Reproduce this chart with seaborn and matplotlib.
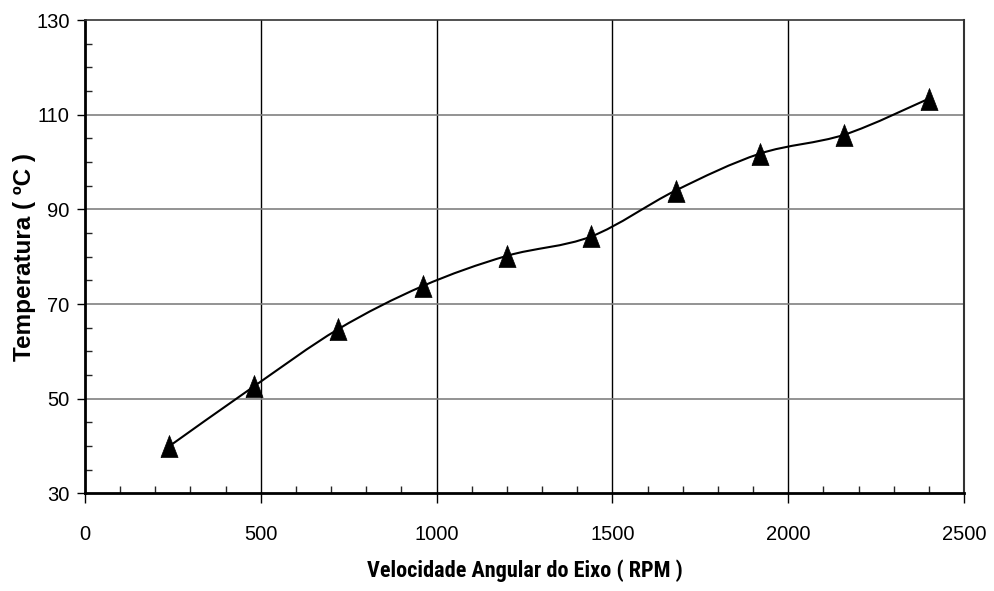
import matplotlib
matplotlib.use("Agg")
import matplotlib.pyplot as plt
from matplotlib.path import Path
from matplotlib.patches import PathPatch
from matplotlib.ticker import MultipleLocator
import seaborn as sns
import pandas as pd

# dados
rpm = [240, 480, 720, 960, 1200, 1440, 1680, 1920, 2160, 2400]
temperatura = [40, 52.6, 64.7, 73.8, 80.2, 84.3, 94.0, 101.8, 105.8, 113.4]
x_ticks = [0, 500, 1000, 1500, 2000, 2500]
y_ticks = [30, 50, 70, 90, 110, 130]

df = pd.DataFrame({"rpm": rpm, "temp": temperatura})

sns.set_style("white")
plt.rcParams["font.family"] = ["Liberation Sans", "DejaVu Sans"]
plt.rcParams["text.color"] = "black"
plt.rcParams["axes.labelcolor"] = "black"

fig = plt.figure(figsize=(9.94, 5.91), dpi=100)
ax = fig.add_axes([0.0855, 0.165, 0.8843, 0.801])

# linha suavizada (estilo Excel: curvas de Bezier entre os pontos)
verts = [(rpm[0], temperatura[0])]
codes = [Path.MOVETO]
n = len(rpm)
for i in range(n - 1):
    x0, y0 = rpm[max(i - 1, 0)], temperatura[max(i - 1, 0)]
    x1, y1 = rpm[i], temperatura[i]
    x2, y2 = rpm[i + 1], temperatura[i + 1]
    x3, y3 = rpm[min(i + 2, n - 1)], temperatura[min(i + 2, n - 1)]
    verts += [(x1 + (x2 - x0) / 6, y1 + (y2 - y0) / 6),
              (x2 - (x3 - x1) / 6, y2 - (y3 - y1) / 6),
              (x2, y2)]
    codes += [Path.CURVE4] * 3
ax.add_patch(PathPatch(Path(verts, codes), fill=False, edgecolor="black", lw=1.5, zorder=3))

tri = [(-0.39, -0.5), (0.39, -0.5), (0, 0.5), (-0.39, -0.5)]
sns.scatterplot(data=df, x="rpm", y="temp", marker=tri, s=250, color="black",
                edgecolor="black", linewidth=0.5, zorder=4, ax=ax, legend=False)

ax.set_xlim(0, 2500)
ax.set_ylim(30, 130)
ax.set_xticks(x_ticks)
ax.set_yticks(y_ticks)
ax.xaxis.set_minor_locator(MultipleLocator(100))
ax.yaxis.set_minor_locator(MultipleLocator(5))

ax.tick_params(axis="x", which="major", direction="out", length=7, width=1, pad=16,
               labelsize=14.5, colors="black", bottom=True)
ax.tick_params(axis="y", which="major", direction="out", length=6, width=1, pad=5,
               labelsize=14.5, colors="black", left=True)
ax.tick_params(axis="x", which="minor", direction="in", length=5, width=1, bottom=True)
ax.tick_params(axis="y", which="minor", direction="in", length=5, width=1, left=True)

ax.grid(False)
for v in x_ticks[1:-1]:
    ax.axvline(v, color="black", lw=1, zorder=1)
for v in y_ticks[1:-1]:
    ax.axhline(v, color="#808080", lw=1.2, zorder=1)

for side in ["left", "bottom"]:
    ax.spines[side].set_linewidth(2)
    ax.spines[side].set_color("black")
ax.spines["top"].set_linewidth(1.2)
ax.spines["top"].set_color("#333333")
ax.spines["right"].set_linewidth(1.5)
ax.spines["right"].set_color("#333333")

ax.set_xlabel("Velocidade Angular do Eixo ( RPM )", fontsize=16, fontweight="bold",
              family=["Roboto Condensed", "Liberation Sans"])
ax.set_ylabel("Temperatura ( ºC )", fontsize=17.5, fontweight="bold")
ax.xaxis.set_label_coords(0.5, -0.139)
ax.yaxis.set_label_coords(-0.0556, 0.5)

fig.savefig("out.png", dpi=100)
